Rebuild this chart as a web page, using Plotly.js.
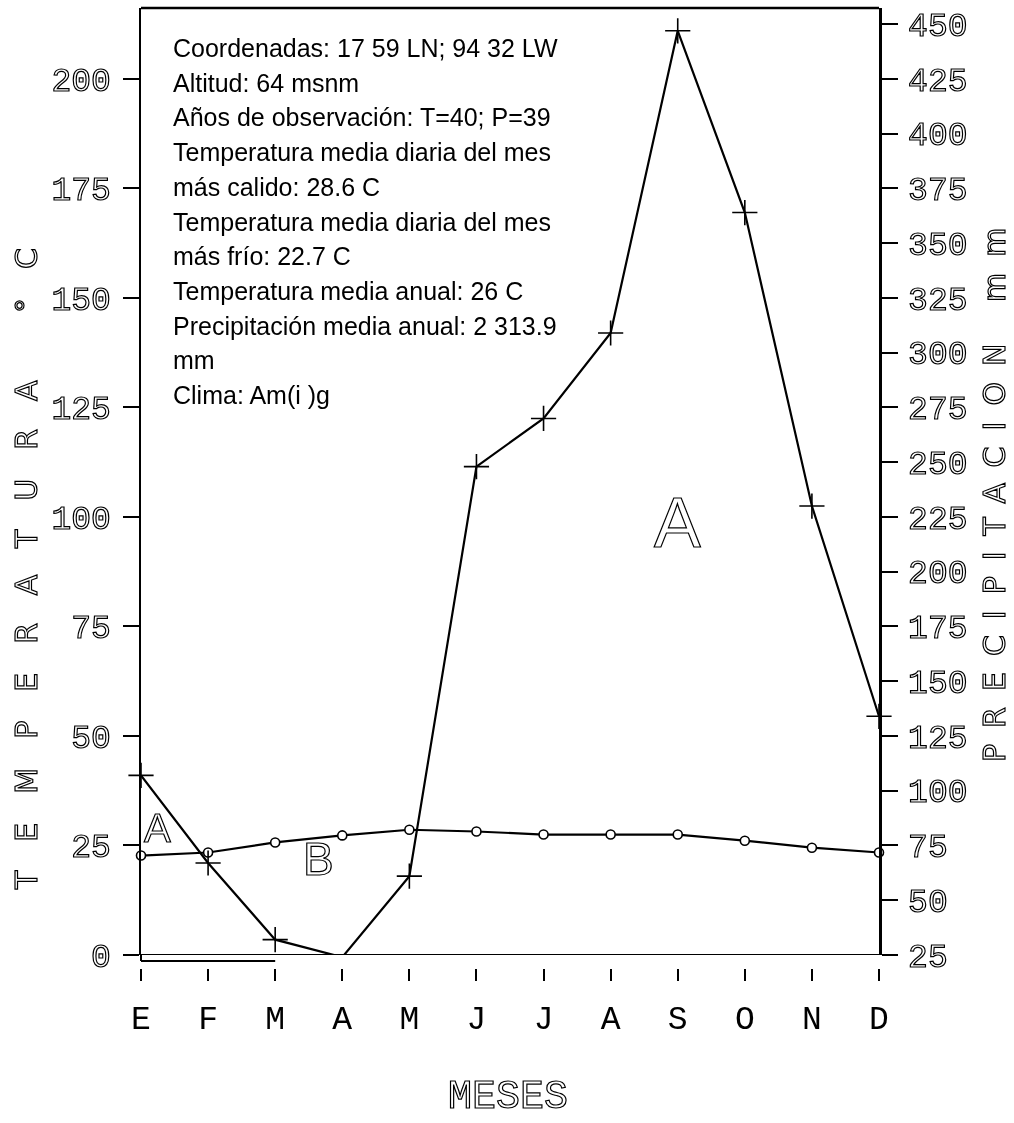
<!DOCTYPE html>
<html>
<head>
<meta charset="utf-8">
<script src="https://cdn.plot.ly/plotly-3.0.1.min.js"></script>
<style>
  html, body { margin: 0; padding: 0; background: #fff; }
  #chart { width: 1014px; height: 1123px; filter: grayscale(100%); }
  .ytick text, .y2tick text { fill: #fff !important; stroke: #000; stroke-width: 1.2px; }
  g.annotation[data-index="11"] text,
  g.annotation[data-index="12"] text,
  g.annotation[data-index="13"] text { fill: #fff !important; stroke: #000; stroke-width: 1.2px; }
  g.annotation[data-index="14"] text,
  g.annotation[data-index="15"] text,
  g.annotation[data-index="16"] text { fill: #fff !important; stroke: #000; stroke-width: 1.2px; }
  g.annotation[data-index="14"] text { letter-spacing: 29px; }
  g.annotation[data-index="15"] text { letter-spacing: 16px; }
</style>
</head>
<body>
<div id="chart"></div>
<script>
// ---- data ----
const months = ['E','F','M','A','M','J','J','A','S','O','N','D'];
const temperature = [22.7, 23.4, 25.7, 27.3, 28.6, 28.2, 27.5, 27.5, 27.5, 26.1, 24.5, 23.4];
const precipitation = [107, 67, 32, 24, 61, 248, 270, 309, 447, 364, 230, 134];
const tempTicks = [0, 25, 50, 75, 100, 125, 150, 175, 200];
const precipTicks = [25, 50, 75, 100, 125, 150, 175, 200, 225, 250, 275, 300, 325, 350, 375, 400, 425, 450];
const infoLines = [
  'Coordenadas: 17 59 LN; 94 32 LW',
  'Altitud: 64 msnm',
  'Años de observación: T=40; P=39',
  'Temperatura media diaria del mes',
  'más calido: 28.6 C',
  'Temperatura media diaria del mes',
  'más frío: 22.7 C',
  'Temperatura media anual: 26 C',
  'Precipitación media anual: 2 313.9',
  'mm',
  'Clima: Am(i )g'
];
const zoneLabels = ['A', 'B', 'A'];
const zoneX = [0.24, 2.64, 7.99];
const zoneY = [29, 22, 98.6];
const zoneSize = [40, 46, 70];
const xTitle = 'MESES';
const yTitle = 'TEMPERATURA °C';
const y2Title = 'PRECIPITACION mm';

// ---- geometry helpers ----
const W = 1014, H = 1123;
const mL = 141, mR = 135, mT = 8, mB = 155;
const plotW = W - mL - mR, plotH = H - mT - mB;
const px2paperX = p => (p - mL) / plotW;
const px2paperY = p => (H - mB - p) / plotH;
const yDomStart = px2paperY(955);
const tTop = 216.2;

const xIdx = months.map((m, i) => i);

const traces = [
  {
    x: xIdx, y: temperature, yaxis: 'y', type: 'scatter', mode: 'lines+markers',
    line: { color: '#000', width: 2.2 },
    marker: { symbol: 'circle', size: 9, color: '#fff', line: { color: '#000', width: 1.6 } },
    cliponaxis: false, showlegend: false, hoverinfo: 'skip'
  },
  {
    x: xIdx, y: precipitation, yaxis: 'y2', type: 'scatter', mode: 'lines+markers',
    line: { color: '#000', width: 2.2 },
    marker: { symbol: 'cross-thin-open', size: 18, color: '#000', line: { color: '#000', width: 1.6 } },
    cliponaxis: false, showlegend: false, hoverinfo: 'skip'
  }
];

const annotations = [];
infoLines.forEach((t, i) => {
  annotations.push({
    text: t, xref: 'paper', yref: 'paper',
    x: px2paperX(171), y: px2paperY(48 + i * 34.7),
    xanchor: 'left', yanchor: 'middle', showarrow: false,
    font: { family: 'Liberation Sans, Arial, sans-serif', size: 25, color: '#000' }
  });
});
zoneLabels.forEach((t, i) => {
  annotations.push({
    text: t, xref: 'x', yref: 'y', x: zoneX[i], y: zoneY[i],
    xanchor: 'center', yanchor: 'middle', showarrow: false,
    font: { family: 'Liberation Sans, Arial, sans-serif', size: zoneSize[i], color: '#000' }
  });
});
annotations.push({
  text: yTitle, xref: 'paper', yref: 'paper', x: px2paperX(26), y: px2paperY(555),
  xanchor: 'center', yanchor: 'middle', textangle: -90, showarrow: false,
  font: { family: 'DejaVu Sans, sans-serif', size: 30, color: '#000' }
});
annotations.push({
  text: y2Title, xref: 'paper', yref: 'paper', x: px2paperX(995), y: px2paperY(487),
  xanchor: 'center', yanchor: 'middle', textangle: -90, showarrow: false,
  font: { family: 'DejaVu Sans, sans-serif', size: 30, color: '#000' }
});
annotations.push({
  text: xTitle, xref: 'paper', yref: 'paper', x: px2paperX(508), y: px2paperY(1097),
  xanchor: 'center', yanchor: 'middle', showarrow: false,
  font: { family: 'Liberation Mono, monospace', size: 40, color: '#000' }
});

const shapes = [
  // top border
  { type: 'line', xref: 'paper', yref: 'paper', x0: 0, x1: 1, y0: 1, y1: 1, line: { color: '#000', width: 2.5 } },
  // bottom (zero) line
  { type: 'line', xref: 'paper', yref: 'y', x0: 0, x1: 1, y0: 0, y1: 0, line: { color: '#000', width: 2.2 } },
  // small L-shaped segment below the corner
  { type: 'line', xref: 'paper', yref: 'paper', x0: 0, x1: 0, y0: px2paperY(955), y1: px2paperY(961), line: { color: '#000', width: 2 } },
  { type: 'line', xref: 'x', yref: 'paper', x0: 0, x1: 2, y0: px2paperY(961), y1: px2paperY(961), line: { color: '#000', width: 2 } }
];

const layout = {
  width: W, height: H,
  margin: { l: mL, r: mR, t: mT, b: mB, pad: 0 },
  paper_bgcolor: '#fff', plot_bgcolor: '#fff',
  showlegend: false,
  xaxis: {
    range: [0, 11], anchor: 'free', position: 0,
    tickmode: 'array', tickvals: xIdx, ticktext: months,
    ticks: 'outside', ticklen: 12, tickwidth: 2, tickcolor: '#000',
    showline: false, showgrid: false, zeroline: false,
    tickfont: { family: 'Liberation Mono, monospace', size: 33, color: '#000' },
    ticklabelstandoff: 8
  },
  yaxis: {
    range: [0, tTop], domain: [yDomStart, 1], anchor: 'x',
    tickmode: 'array', tickvals: tempTicks,
    ticks: 'outside', ticklen: 16, tickwidth: 2, tickcolor: '#000',
    showline: true, linecolor: '#000', linewidth: 2.5,
    showgrid: false, zeroline: false,
    tickfont: { family: 'Liberation Mono, monospace', size: 33, color: '#000' },
    ticklabelstandoff: 5
  },
  yaxis2: {
    range: [25, 25 + 2 * tTop], overlaying: 'y', side: 'right', anchor: 'x',
    tickmode: 'array', tickvals: precipTicks,
    ticks: 'outside', ticklen: 16, tickwidth: 2, tickcolor: '#000',
    showline: true, linecolor: '#000', linewidth: 2.5,
    showgrid: false, zeroline: false,
    tickfont: { family: 'Liberation Mono, monospace', size: 33, color: '#000' },
    ticklabelstandoff: 4
  },
  annotations: annotations,
  shapes: shapes
};

Plotly.newPlot('chart', traces, layout, { staticPlot: true, displayModeBar: false });
</script>
</body>
</html>
